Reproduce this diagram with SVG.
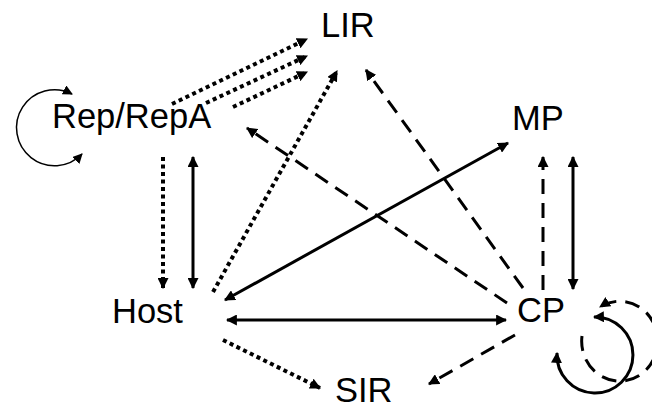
<svg xmlns="http://www.w3.org/2000/svg" width="652" height="409" viewBox="0 0 652 409">
<style>
text{font-family:"Liberation Sans",Arial,sans-serif;font-size:34.5px;fill:#000}
.c{fill:none;stroke:#000;stroke-width:3}
.dash{stroke-dasharray:15 9}
.dot{stroke-width:4;stroke-dasharray:4 3.5}
.thin{fill:none;stroke:#000;stroke-width:1.5}
</style>
<defs>
<marker id="ah" viewBox="0 0 10 10" refX="9" refY="5" markerWidth="11" markerHeight="11" markerUnits="userSpaceOnUse" orient="auto-start-reverse">
<path d="M0,0 L10,5 L0,10 z" fill="#000"/>
</marker>
<marker id="ahs" viewBox="0 0 10 10" refX="9" refY="5" markerWidth="10" markerHeight="10" markerUnits="userSpaceOnUse" orient="auto-start-reverse">
<path d="M0,0 L10,5 L0,10 z" fill="#000"/>
</marker>
</defs>
<rect width="652" height="409" fill="#fff"/>
<g id="connectors">
<path class="c dot" d="M172,104 L307,39" marker-end="url(#ah)"/>
<path class="c dot" d="M206,103 L307,56" marker-end="url(#ah)"/>
<path class="c dot" d="M233,107 L307,72" marker-end="url(#ah)"/>
<path class="c dot" d="M163,157 L163,288" marker-end="url(#ah)"/>
<path class="c" d="M193,157 L193,288" marker-start="url(#ah)" marker-end="url(#ah)"/>
<path class="c dot" d="M213,292 L337,71" marker-end="url(#ah)"/>
<path class="c dash" d="M523,288 L366,70" marker-end="url(#ah)"/>
<path class="c dash" d="M507,303 L247,128" marker-end="url(#ah)"/>
<path class="c" d="M225,300 L508,143" marker-start="url(#ah)" marker-end="url(#ah)"/>
<path class="c" d="M227,320 L506,320" marker-start="url(#ah)" marker-end="url(#ah)"/>
<path class="c dash" d="M543,290 L543,157" marker-end="url(#ah)"/>
<path class="c" d="M573,157 L573,289" marker-start="url(#ah)" marker-end="url(#ah)"/>
<path class="c dash" d="M515,335 L429,384" marker-end="url(#ah)"/>
<path class="c dot" d="M223,340 L320,388" marker-end="url(#ah)"/>
<path class="thin" d="M72,94 A38,38 0 1 0 82,154" marker-start="url(#ahs)" marker-end="url(#ahs)"/>
<path class="c" d="M557,353 A38,38 0 1 0 594,317" marker-start="url(#ah)" marker-end="url(#ah)"/>
<path class="c dash" d="M582,336 A38,40 0 1 0 600,307" marker-end="url(#ah)"/>
</g>
<g id="LIR"><text x="321" y="37">LIR</text></g>
<g id="RepRepA"><text x="52" y="128">Rep/RepA</text></g>
<g id="MP"><text x="512" y="130">MP</text></g>
<g id="Host"><text x="112" y="323">Host</text></g>
<g id="CP"><text x="517" y="322">CP</text></g>
<g id="SIR"><text x="335" y="402">SIR</text></g>
</svg>
